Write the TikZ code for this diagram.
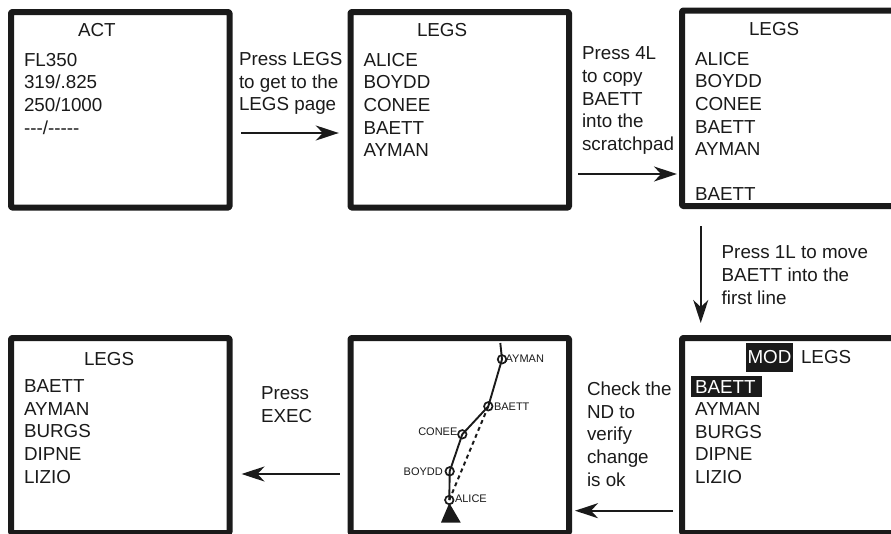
\documentclass[tikz,border=0pt]{standalone}
\usepackage{fontspec}
\setmainfont[Ligatures=NoCommon]{Liberation Sans}
\usetikzlibrary{arrows.meta,calc}
\definecolor{ink}{HTML}{1A1A1A}
\tikzset{
  screen/.style={draw=ink,line width=6pt,rounded corners=1pt,line join=round,inner sep=0pt,outer sep=0pt,minimum width=218.5pt,minimum height=195pt},
  txt/.style={anchor=base west,inner sep=0pt,outer sep=0pt,align=left,text=ink,font=\fontsize{18.8}{22.7}\selectfont},
  wpt/.style={circle,draw=ink,line width=1.7pt,minimum size=8.5pt,inner sep=0pt,outer sep=0pt},
  wlabel/.style={anchor=base west,inner sep=0pt,outer sep=0pt,text=ink,font=\fontsize{11}{12}\selectfont},
  leg/.style={draw=ink,line width=1.9pt},
  arr/.style={draw=ink,line width=2pt,-{Stealth[length=23pt,width=15pt,inset=7pt]}},
  hl/.style={anchor=base west,fill=ink,text=white,inner ysep=0pt,outer sep=0pt,font=\fontsize{18.8}{22.7}\selectfont}
}
\begin{document}
\begin{tikzpicture}[x=1pt,y=-1pt]
\useasboundingbox (0,0) rectangle (891,533);
% screens
\node[screen,minimum height=195.5pt] (box1) at (120.25,109.75) {};
\node[screen,minimum height=195.5pt] (box2) at (459.75,109.75) {};
\node[screen,minimum height=195.5pt] (box3) at (791.25,108.25) {};
\node[screen] (box4) at (120.25,435.5) {};
\node[screen] (box5) at (459.75,435.5) {};
\node[screen] (box6) at (791.25,435.5) {};
% screen 1
\node[txt] (t1h) at (78,36.7) {ACT};
\node[txt] (t1a) at (24,66) {FL350};
\node[txt] (t1b) at (24,88.7) {319/.825};
\node[txt] (t1c) at (24,111.2) {250/1000};
\node[txt] (t1d) at (24,134) {{-}{-}{-}/{-}{-}{-}{-}{-}};
% screen 2
\node[txt] (t2h) at (417,36) {LEGS};
\node[txt] (t2a) at (363.5,66) {ALICE};
\node[txt] (t2b) at (363.5,88.7) {BOYDD};
\node[txt] (t2c) at (363.5,111.2) {CONEE};
\node[txt] (t2d) at (363.5,134) {BAETT};
\node[txt] (t2e) at (363.5,156.5) {AYMAN};
% screen 3
\node[txt] (t3h) at (749,35) {LEGS};
\node[txt] (t3a) at (695,65) {ALICE};
\node[txt] (t3b) at (695,87.7) {BOYDD};
\node[txt] (t3c) at (695,110.2) {CONEE};
\node[txt] (t3d) at (695,133) {BAETT};
\node[txt] (t3e) at (695,155.5) {AYMAN};
\node[txt] (t3f) at (695,200) {BAETT};
% screen 4
\node[txt] (t4h) at (84,365) {LEGS};
\node[txt] (t4a) at (24,392.3) {BAETT};
\node[txt] (t4b) at (24,415) {AYMAN};
\node[txt] (t4c) at (24,437.5) {BURGS};
\node[txt] (t4d) at (24,460.2) {DIPNE};
\node[txt] (t4e) at (24,483) {LIZIO};
% screen 6
\node[hl,inner xsep=1pt] (mod) at (746,363) {\makebox[45pt][c]{\rule{0pt}{19.7pt}\rule[-9.3pt]{0pt}{9.3pt}MOD}};
\node[txt] (t6h) at (801,363) {LEGS};
\node[hl,inner xsep=4pt] (t6a) at (691,393) {\makebox[63pt][l]{\rule{0pt}{17pt}\rule[-4pt]{0pt}{4pt}BAETT}};
\node[txt] (t6b) at (695,415.5) {AYMAN};
\node[txt] (t6c) at (695,438) {BURGS};
\node[txt] (t6d) at (695,460.7) {DIPNE};
\node[txt] (t6e) at (695,483.5) {LIZIO};
% instructions
\node[txt] (i1a) at (239,65) {Press LEGS};
\node[txt] (i1b) at (239,88) {to get to the};
\node[txt] (i1c) at (239,110) {LEGS page};
\node[txt] (i2a) at (582,59) {Press 4L};
\node[txt] (i2b) at (582,82) {to copy};
\node[txt] (i2c) at (582,105) {BAETT};
\node[txt] (i2d) at (582,127.5) {into the};
\node[txt] (i2e) at (582,150) {scratchpad};
\node[txt] (i3a) at (721.7,258) {Press 1L to move};
\node[txt] (i3b) at (721.7,281) {BAETT into the};
\node[txt] (i3c) at (721.7,304) {first line};
\node[txt] (i4a) at (261,399) {Press};
\node[txt] (i4b) at (261,422) {EXEC};
\node[txt] (i5a) at (587,395) {Check the};
\node[txt] (i5b) at (587,418) {ND to};
\node[txt] (i5c) at (587,440) {verify};
\node[txt] (i5d) at (587,463) {change};
\node[txt] (i5e) at (587,486) {is ok};
% map
\coordinate (top) at (500.3,343);
\node[wpt] (ayman) at (502,359.3) {};
\node[wpt] (baett) at (488.3,406.3) {};
\node[wpt] (conee) at (462.3,434.3) {};
\node[wpt] (boydd) at (449.7,471.3) {};
\node[wpt] (alice) at (449.3,500) {};
\draw[leg] (top) -- (ayman.center) -- (baett.center) -- (conee.center) -- (boydd.center) -- (alice.center);
\draw[leg,line width=2pt,dash pattern=on 4pt off 3.5pt] (alice.center) -- (baett.center);
\fill[ink] (449.3,503) -- (460.7,522.5) -- (441,522.5) -- cycle;
\node[wlabel] (lay) at (505.7,362.7) {AYMAN};
\node[wlabel] (lba) at (494,410) {BAETT};
\node[wlabel] (lco) at (418.3,435) {CONEE};
\node[wlabel] (lbo) at (403.7,475) {BOYDD};
\node[wlabel] (lal) at (455,502.7) {ALICE};
% connectors
\draw[arr,shorten <=11.5pt,shorten >=11.7pt] ([yshift=-23.25pt]box1.east) -- ([yshift=-23.25pt]box2.west);
\draw[arr,shorten <=9pt,shorten >=5pt] ([yshift=-64.25pt]box2.east) -- ([yshift=-65.75pt]box3.west);
\draw[arr,shorten <=20pt,shorten >=15pt] ([xshift=-90.5pt]box3.south) -- ([xshift=-90.5pt]box6.north);
\draw[arr,shorten <=9pt,shorten >=6pt] ([yshift=-75.2pt]box6.west) -- ([yshift=-75.2pt]box5.east);
\draw[arr,shorten <=11pt,shorten >=12pt] ([yshift=-38.5pt]box5.west) -- ([yshift=-38.5pt]box4.east);
\end{tikzpicture}
\end{document}
